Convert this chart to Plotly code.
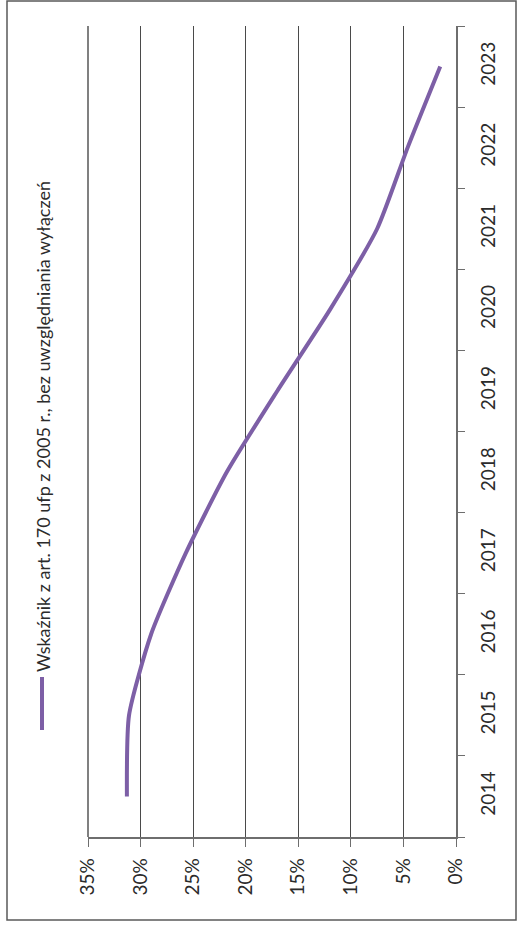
import plotly.graph_objects as go

# Wskaźnik z art. 170 ufp – wartości procentowe w latach 2014–2023
years = ["2014", "2015", "2016", "2017", "2018", "2019", "2020", "2021", "2022", "2023"]
values = [31.3, 31.1, 29.0, 25.7, 21.8, 17.0, 12.0, 7.5, 4.6, 1.5]

pct_ticks = [0, 5, 10, 15, 20, 25, 30, 35]
pct_labels = ["0%", "5%", "10%", "15%", "20%", "25%", "30%", "35%"]

series_name = "Wskaźnik z art. 170 ufp z 2005 r., bez uwzględniania wyłączeń"

LINE_COLOR = "#7d5fa6"
GRID_COLOR = "#4a4a4a"
AXIS_COLOR = "#6e6e6e"
FONT = "Lato"

# plot area in pixels (page 519 x 929)
L, R, T, B = 88, 456, 26, 837
W, H = 519, 929


def px_x(p):
    return (p - L) / (R - L)


def px_y(p):
    return (B - p) / (B - T)


fig = go.Figure()

# Chart is laid out sideways: values run along the horizontal axis
# (35% on the left down to 0% on the right), years go up the right side.
fig.add_trace(go.Scatter(
    x=values,
    y=years,
    mode="lines",
    line=dict(color=LINE_COLOR, width=4, shape="spline", smoothing=0.6),
    name=series_name,
    showlegend=False,
    hoverinfo="skip",
))

fig.update_layout(
    width=W,
    height=H,
    margin=dict(l=L, r=W - R, t=T, b=H - B),
    paper_bgcolor="white",
    plot_bgcolor="white",
    font=dict(family=FONT, color="#2b2b2b", size=18),
    xaxis=dict(
        range=[35, 0],
        tickvals=pct_ticks,
        ticktext=pct_labels,
        tickangle=-90,
        ticks="outside",
        ticklen=8,
        tickwidth=1.2,
        tickcolor=AXIS_COLOR,
        showline=True,
        linecolor=AXIS_COLOR,
        linewidth=1.5,
        showgrid=True,
        gridcolor=GRID_COLOR,
        gridwidth=1.4,
        zeroline=False,
        tickfont=dict(family=FONT, size=19, color="#2b2b2b"),
        ticklabelstandoff=4,
        fixedrange=True,
    ),
    yaxis=dict(
        type="category",
        categoryorder="array",
        categoryarray=years,
        range=[-0.5, 9.5],
        side="right",
        tickson="boundaries",
        ticks="outside",
        ticklen=7,
        tickwidth=1.2,
        tickcolor=AXIS_COLOR,
        showline=True,
        linecolor=AXIS_COLOR,
        linewidth=1.5,
        showgrid=False,
        zeroline=False,
        tickangle=-90,
        tickfont=dict(family=FONT, size=19, color="#2b2b2b"),
        ticklabelstandoff=14,
        fixedrange=True,
    ),
)

# gridline along the far-left edge of the value range (35%)
fig.add_shape(
    type="line", xref="paper", yref="paper",
    x0=0, x1=0, y0=0, y1=1,
    line=dict(color=GRID_COLOR, width=1.4),
    layer="above",
)

# legend drawn sideways: short line sample plus rotated caption
fig.add_shape(
    type="line", xref="paper", yref="paper",
    x0=px_x(42), x1=px_x(42), y0=px_y(677), y1=px_y(730),
    line=dict(color=LINE_COLOR, width=4),
)
fig.add_annotation(
    xref="paper", yref="paper",
    x=px_x(43), y=px_y(427),
    text=series_name,
    textangle=-90,
    showarrow=False,
    xanchor="center", yanchor="middle",
    font=dict(family=FONT, size=18, color="#2b2b2b"),
)

# outer chart frame
fig.add_shape(
    type="rect", xref="paper", yref="paper",
    x0=px_x(7), x1=px_x(516), y0=px_y(920), y1=px_y(1),
    line=dict(color="#5a5a5a", width=1.5),
    fillcolor="rgba(0,0,0,0)",
    layer="below",
)

fig.write_html("out.html")
